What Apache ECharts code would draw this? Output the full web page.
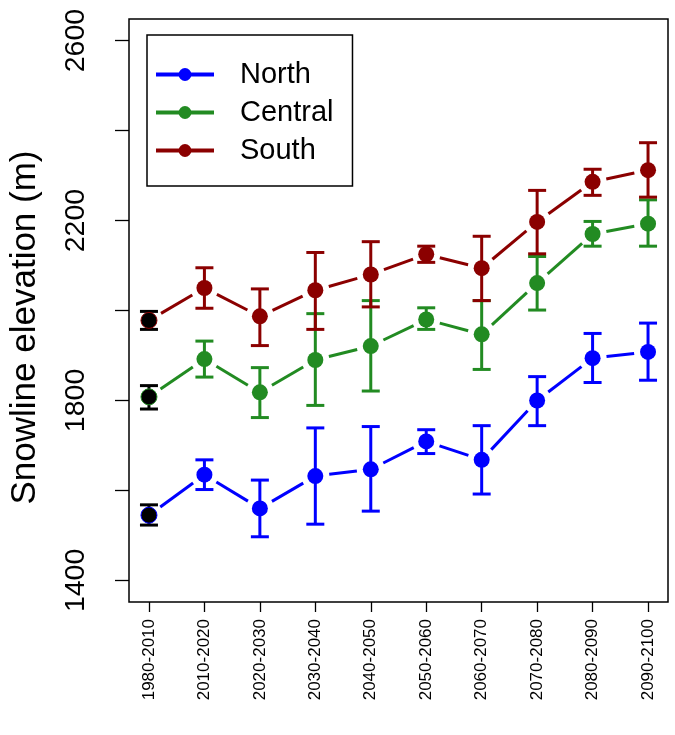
<!DOCTYPE html>
<html>
<head>
<meta charset="utf-8">
<script src="https://cdn.jsdelivr.net/npm/echarts@6/dist/echarts.min.js"></script>
<style>html,body{margin:0;padding:0;background:#fff;}#c{width:675px;height:735px;}</style>
</head>
<body>
<div id="c"></div>
<script>
var periods = ['1980-2010','2010-2020','2020-2030','2030-2040','2040-2050','2050-2060','2060-2070','2070-2080','2080-2090','2090-2100'];
var north   = [1545, 1635, 1560, 1632, 1647, 1709, 1668, 1800, 1894, 1908];
var northLo = [1523, 1602, 1497, 1525, 1554, 1682, 1592, 1744, 1840, 1845];
var northHi = [1568, 1668, 1623, 1739, 1742, 1735, 1744, 1853, 1949, 1972];
var central   = [1808, 1892, 1818, 1890, 1921, 1980, 1947, 2061, 2170, 2193];
var centralLo = [1781, 1852, 1762, 1789, 1821, 1958, 1869, 2001, 2143, 2143];
var centralHi = [1833, 1932, 1873, 1993, 2022, 2006, 2022, 2120, 2198, 2246];
var south   = [1978, 2050, 1987, 2045, 2080, 2125, 2094, 2197, 2286, 2312];
var southLo = [1958, 2005, 1922, 1958, 2008, 2107, 2022, 2126, 2256, 2252];
var southHi = [1998, 2095, 2048, 2129, 2153, 2143, 2165, 2267, 2314, 2373];
var yTicks = [1400, 1600, 1800, 2000, 2200, 2400, 2600];
var yLabels = [1400, 1800, 2200, 2600];

var regions = [
  {name: 'North', color: '#0000FF', mean: north, lo: northLo, hi: northHi},
  {name: 'Central', color: '#228B22', mean: central, lo: centralLo, hi: centralHi},
  {name: 'South', color: '#8B0000', mean: south, lo: southLo, hi: southHi}
];
var xIdx = periods.map(function (p, i) { return i + 1; });
var FONT = 'Liberation Sans, Arial, sans-serif';

var series = [];
regions.forEach(function (r) {
  // error bars
  series.push({
    type: 'custom',
    name: r.name + ' err',
    z: 2,
    silent: true,
    data: r.mean.map(function (v, i) { return [xIdx[i], v, r.lo[i], r.hi[i]]; }),
    renderItem: function (params, api) {
      var x = api.value(0);
      var top = api.coord([x, api.value(3)]);
      var bot = api.coord([x, api.value(2)]);
      var col = params.dataIndex === 0 ? '#000' : r.color;
      var w = 9;
      var st = {stroke: col, lineWidth: 3, fill: null};
      return {type: 'group', children: [
        {type: 'line', shape: {x1: top[0], y1: top[1], x2: bot[0], y2: bot[1]}, style: st},
        {type: 'line', shape: {x1: top[0] - w, y1: top[1], x2: top[0] + w, y2: top[1]}, style: st},
        {type: 'line', shape: {x1: bot[0] - w, y1: bot[1], x2: bot[0] + w, y2: bot[1]}, style: st}
      ]};
    }
  });
  // gapped connecting lines (R type "b")
  series.push({
    type: 'custom',
    name: r.name + ' seg',
    z: 2,
    silent: true,
    data: r.mean.slice(0, r.mean.length - 1).map(function (v, i) { return [xIdx[i], v]; }),
    renderItem: function (params, api) {
      var i = params.dataIndex;
      var p0 = api.coord([xIdx[i], r.mean[i]]);
      var p1 = api.coord([xIdx[i + 1], r.mean[i + 1]]);
      var dx = p1[0] - p0[0], dy = p1[1] - p0[1];
      var len = Math.sqrt(dx * dx + dy * dy);
      var g = 14;
      if (len <= 2 * g) return null;
      var ux = dx / len, uy = dy / len;
      return {type: 'line', shape: {x1: p0[0] + ux * g, y1: p0[1] + uy * g, x2: p1[0] - ux * g, y2: p1[1] - uy * g},
        style: {stroke: r.color, lineWidth: 3}};
    }
  });
  // points
  series.push({
    type: 'line',
    name: r.name,
    z: 3,
    color: r.color,
    symbol: 'circle',
    symbolSize: 16,
    lineStyle: {opacity: 0, width: 3},
    itemStyle: {color: r.color},
    data: r.mean.map(function (v, i) {
      var d = {value: [xIdx[i], v]};
      if (i === 0) d.itemStyle = {color: '#000', borderColor: r.color, borderWidth: 1};
      return d;
    })
  });
});

var chart = echarts.init(document.getElementById('c'), null, {renderer: 'canvas'});
chart.setOption({
  animation: false,
  backgroundColor: '#fff',
  grid: {left: 128, right: 7, top: 19, bottom: 133, show: true, borderColor: '#000', borderWidth: 1.5, backgroundColor: 'transparent'},
  legend: {
    orient: 'vertical',
    left: 147, top: 35,
    data: regions.map(function (r) { return r.name; }),
    itemWidth: 58, itemHeight: 16, itemGap: 9,
    padding: [25, 19, 21, 7],
    borderColor: '#000', borderWidth: 1.5,
    lineStyle: {opacity: 1, width: 4},
    textStyle: {fontFamily: FONT, fontSize: 29, color: '#000', lineHeight: 28, padding: [0, 0, 0, 21]},
    selectedMode: false
  },
  xAxis: {
    type: 'value',
    min: 0.64, max: 10.36,
    splitLine: {show: false},
    axisLine: {show: false},
    axisTick: {show: true, length: 10, lineStyle: {color: '#000', width: 1.3}, customValues: xIdx},
    axisLabel: {
      show: true, rotate: 90, margin: 17, fontSize: 17, fontFamily: FONT, color: '#000',
      customValues: xIdx,
      formatter: function (v) { return periods[Math.round(v) - 1] || ''; }
    }
  },
  yAxis: {
    type: 'value',
    min: 1352, max: 2648,
    name: 'Snowline elevation (m)',
    nameLocation: 'middle',
    nameGap: 86,
    nameTextStyle: {fontFamily: FONT, fontSize: 35, color: '#000', padding: [0, 34, 0, 0]},
    splitLine: {show: false},
    axisLine: {show: false},
    axisTick: {show: true, length: 14, lineStyle: {color: '#000', width: 1.3}, customValues: yTicks},
    axisLabel: {
      show: true, rotate: 90, margin: 38, fontSize: 28.5, fontFamily: FONT, color: '#000',
      customValues: yLabels,
      formatter: function (v) { return String(v); }
    }
  },
  series: series
});
</script>
</body>
</html>
